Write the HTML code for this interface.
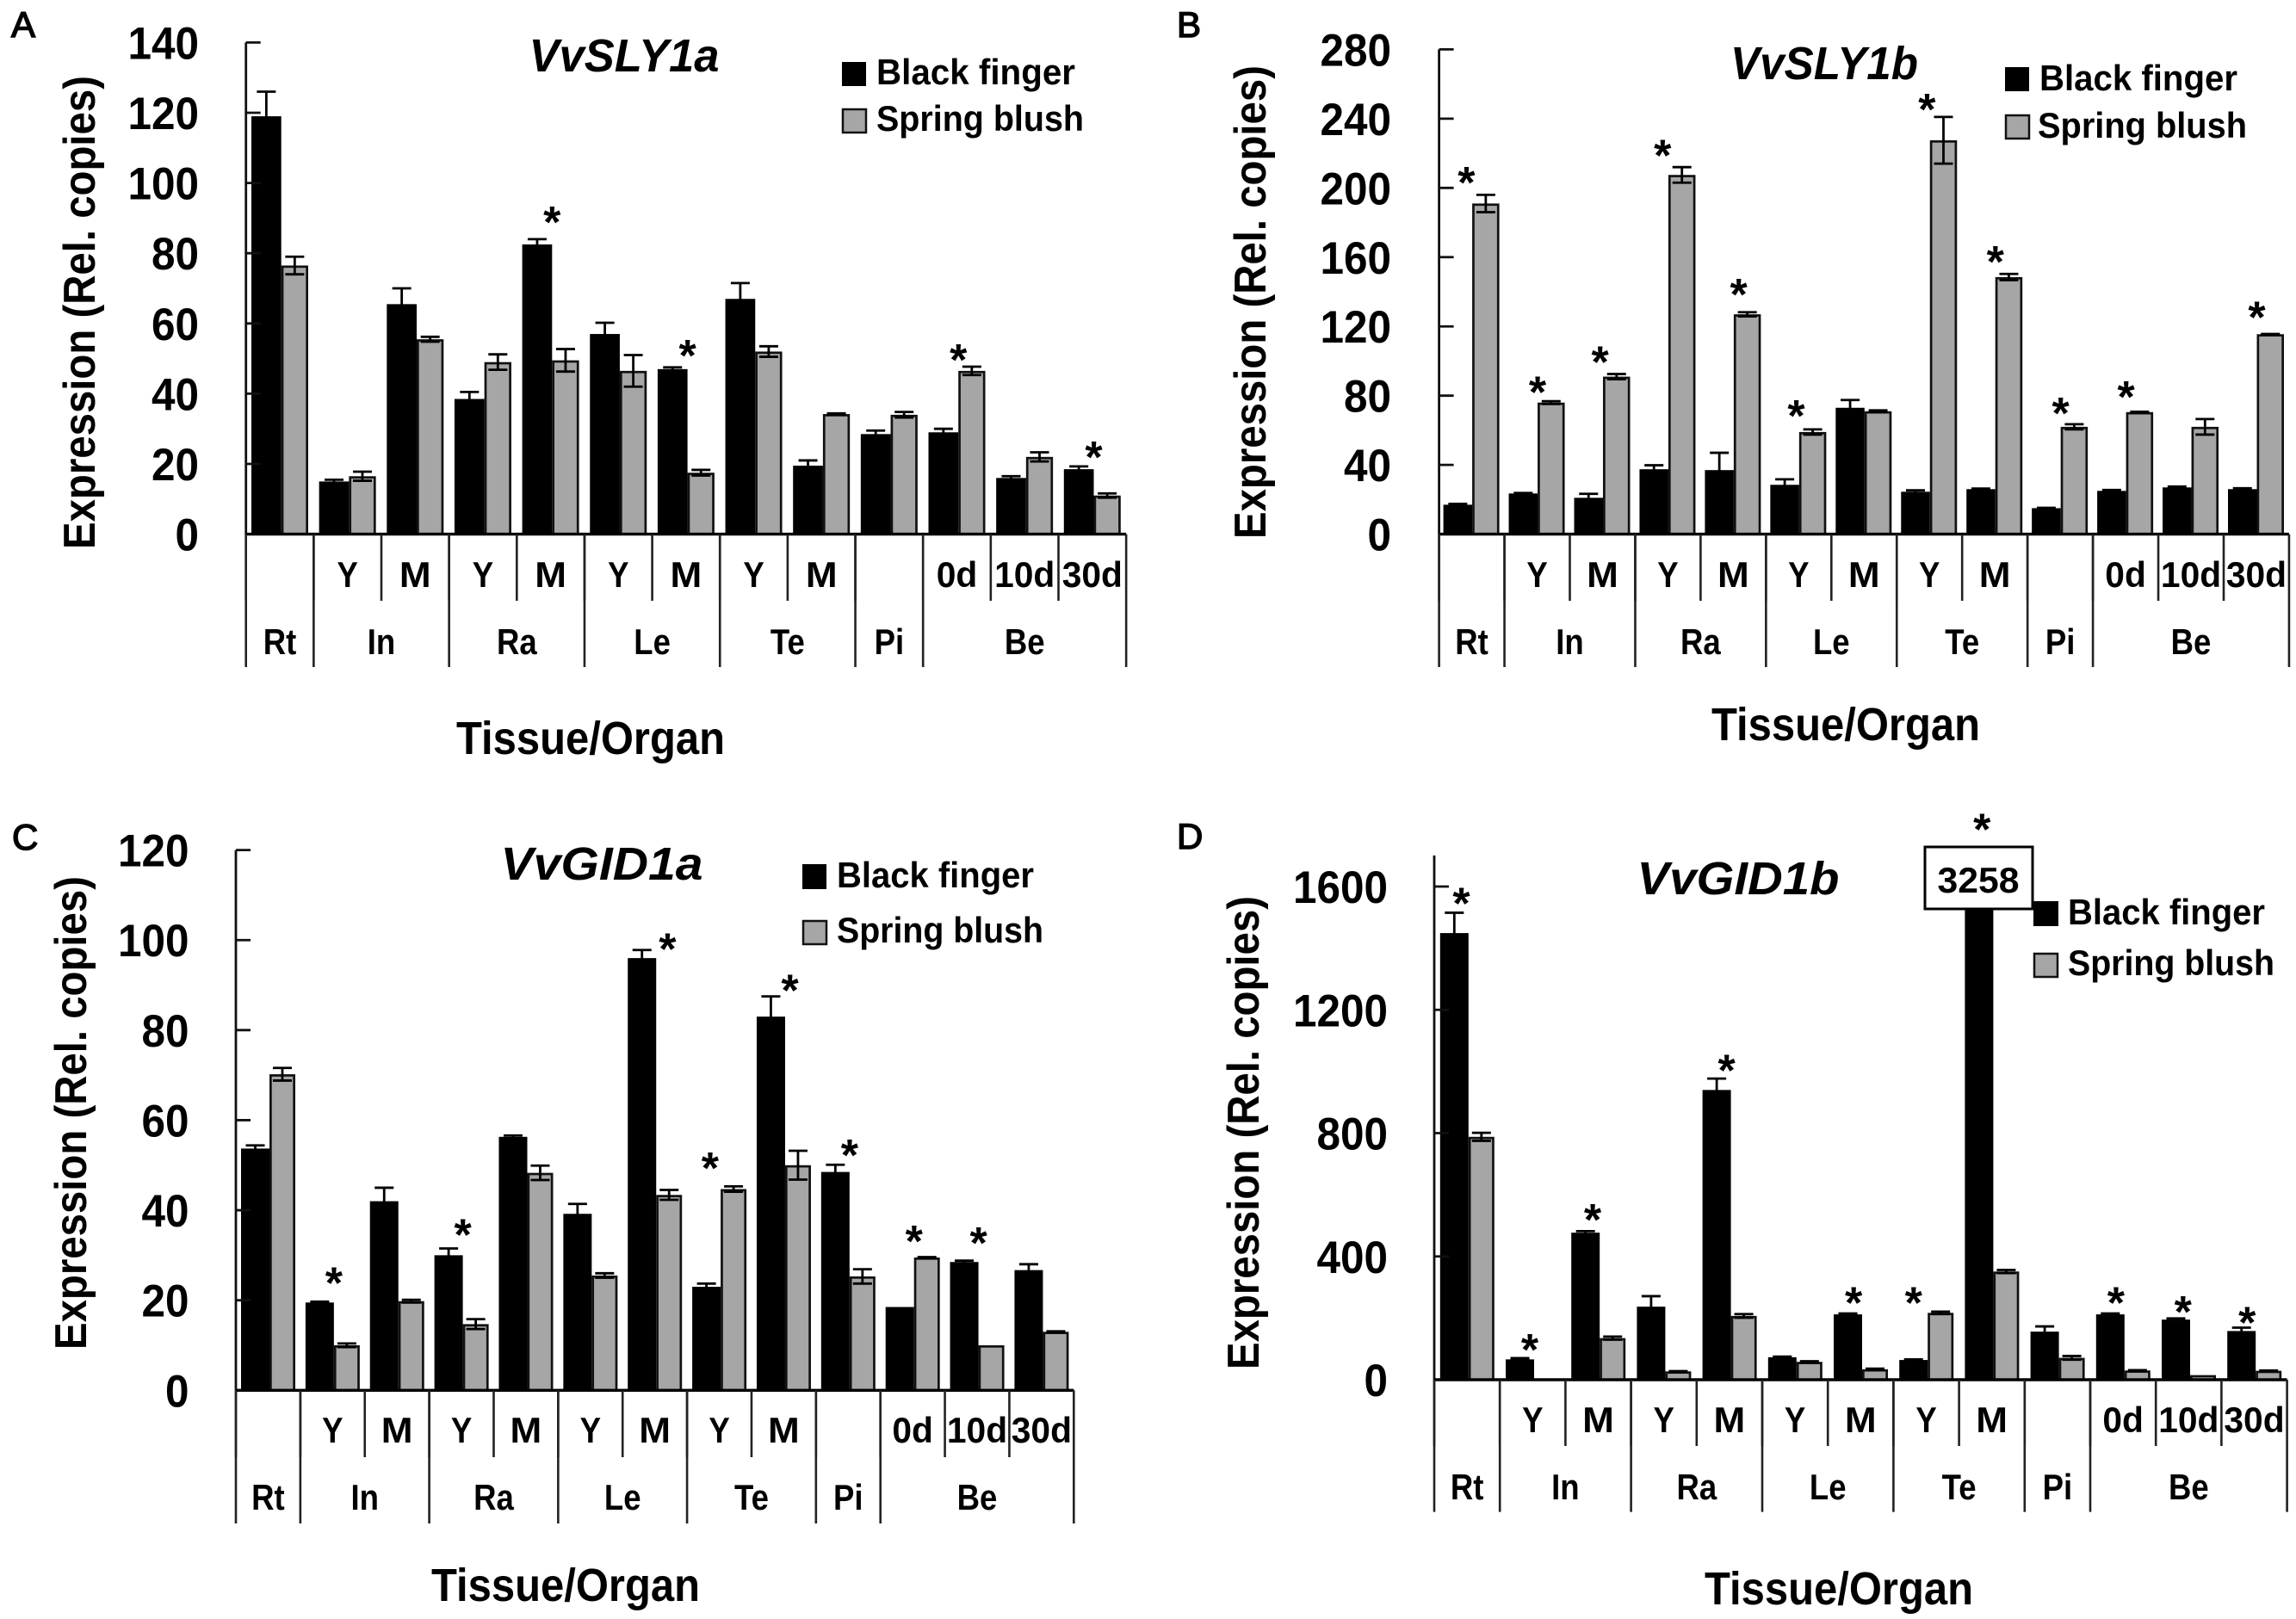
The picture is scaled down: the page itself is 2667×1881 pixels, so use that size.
<!DOCTYPE html>
<html lang="en">
<head>
<meta charset="utf-8">
<title>Expression of VvSLY1a, VvSLY1b, VvGID1a and VvGID1b</title>
<style>
html,body{margin:0;padding:0;background:#fff;}
svg{display:block;}
text{font-family:"Liberation Sans",Arial,sans-serif;font-weight:700;fill:#000;}
.panel-letter{font-weight:400;font-size:42px;stroke:#000;stroke-width:1.5px;}
.gene{font-style:italic;font-size:54px;text-anchor:middle;}
.ytitle{font-size:52px;text-anchor:middle;}
.xtitle{font-size:54px;text-anchor:middle;}
.leg{font-size:42px;}
</style>
</head>
<body>
<svg id="fig" xmlns="http://www.w3.org/2000/svg" width="2667" height="1881" viewBox="0 0 2667 1881">
  <rect width="2667" height="1881" fill="#fff"/>

  <g id="panelA">
    <text class="panel-letter" x="13" y="43">A</text>
    <text class="gene" x="725" y="83" textLength="221" lengthAdjust="spacingAndGlyphs">VvSLY1a</text>
    <text class="ytitle" transform="translate(110,363) rotate(-90)" textLength="550" lengthAdjust="spacingAndGlyphs">Expression (Rel. copies)</text>
    <text class="xtitle" x="686" y="876" textLength="312" lengthAdjust="spacingAndGlyphs">Tissue/Organ</text>
  </g>
  <g id="panelB">
    <text class="panel-letter" x="1367" y="43">B</text>
    <text class="gene" x="2119" y="92" textLength="218" lengthAdjust="spacingAndGlyphs">VvSLY1b</text>
    <text class="ytitle" transform="translate(1470,351) rotate(-90)" textLength="550" lengthAdjust="spacingAndGlyphs">Expression (Rel. copies)</text>
    <text class="xtitle" x="2144" y="860" textLength="312" lengthAdjust="spacingAndGlyphs">Tissue/Organ</text>
  </g>
  <g id="panelC">
    <text class="panel-letter" x="14" y="987">C</text>
    <text class="gene" x="699" y="1022" textLength="235" lengthAdjust="spacingAndGlyphs">VvGID1a</text>
    <text class="ytitle" transform="translate(100,1293) rotate(-90)" textLength="550" lengthAdjust="spacingAndGlyphs">Expression (Rel. copies)</text>
    <text class="xtitle" x="657" y="1860" textLength="312" lengthAdjust="spacingAndGlyphs">Tissue/Organ</text>
  </g>
  <g id="panelD">
    <text class="panel-letter" x="1367" y="986">D</text>
    <text class="gene" x="2019" y="1039" textLength="235" lengthAdjust="spacingAndGlyphs">VvGID1b</text>
    <text class="ytitle" transform="translate(1462,1316) rotate(-90)" textLength="550" lengthAdjust="spacingAndGlyphs">Expression (Rel. copies)</text>
    <text class="xtitle" x="2136" y="1864" textLength="312" lengthAdjust="spacingAndGlyphs">Tissue/Organ</text>
  </g>

  <g id="overlay">
    <g>
      <rect x="978" y="72" width="28" height="28" fill="#000"/>
      <text class="leg" x="1018" y="98" textLength="231" lengthAdjust="spacingAndGlyphs">Black finger</text>
      <rect x="979" y="127" width="27" height="27" fill="#a6a6a6" stroke="#111" stroke-width="2.5"/>
      <text class="leg" x="1018" y="152" textLength="241" lengthAdjust="spacingAndGlyphs">Spring blush</text>
    </g>
    <g>
      <rect x="2329" y="78" width="28" height="28" fill="#000"/>
      <text class="leg" x="2369" y="105" textLength="230" lengthAdjust="spacingAndGlyphs">Black finger</text>
      <rect x="2330" y="134" width="27" height="27" fill="#a6a6a6" stroke="#111" stroke-width="2.5"/>
      <text class="leg" x="2367" y="160" textLength="243" lengthAdjust="spacingAndGlyphs">Spring blush</text>
    </g>
    <g>
      <rect x="932" y="1004" width="28" height="29" fill="#000"/>
      <text class="leg" x="972" y="1031" textLength="229" lengthAdjust="spacingAndGlyphs">Black finger</text>
      <rect x="933" y="1070" width="27" height="27" fill="#a6a6a6" stroke="#111" stroke-width="2.5"/>
      <text class="leg" x="972" y="1095" textLength="240" lengthAdjust="spacingAndGlyphs">Spring blush</text>
    </g>
    <g>
      <rect x="2362" y="1047" width="29" height="29" fill="#000"/>
      <text class="leg" x="2402" y="1074" textLength="229" lengthAdjust="spacingAndGlyphs">Black finger</text>
      <rect x="2363" y="1108" width="27" height="27" fill="#a6a6a6" stroke="#111" stroke-width="2.5"/>
      <text class="leg" x="2402" y="1133" textLength="240" lengthAdjust="spacingAndGlyphs">Spring blush</text>
    </g>
    <g>
      <rect x="2236" y="984" width="125" height="72" fill="#fff" stroke="#000" stroke-width="3"/>
      <text x="2298" y="1037" font-size="42" text-anchor="middle" textLength="95" lengthAdjust="spacingAndGlyphs">3258</text>
    </g>
  </g>
</svg>

<script>
// Shared category labels
const categoryLabels = ['', 'Y', 'M', 'Y', 'M', 'Y', 'M', 'Y', 'M', '', '0d', '10d', '30d'];
const groupLabels = ['Rt', 'In', 'Ra', 'Le', 'Te', 'Pi', 'Be'];
const groupSizes = [1, 2, 2, 2, 2, 1, 3];

// Panel A: VvSLY1a
const ticksA = [0, 20, 40, 60, 80, 100, 120, 140];
const blackA = [119, 15, 65.5, 38.5, 82.5, 57, 47, 67, 19.5, 28.5, 29, 16, 18.5];
const blackErrA = [7, 0.5, 4.5, 2, 1.5, 3.2, 0.5, 4.5, 1.5, 1, 1, 0.5, 0.8];
const grayA = [76.5, 16.5, 55.5, 49, 49.5, 46.5, 17.5, 52, 34.2, 34, 46.5, 22, 11];
const grayErrA = [2.5, 1.3, 0.7, 2.2, 3.2, 4.5, 0.8, 1.5, 0.2, 0.8, 1.2, 1.3, 0.6];
const starCatsA = [4, 6, 10, 12];
const starOnGrayA = [0, 0, 1, 0];
const starLiftA = [6.3, 4.9, 3.4, 4.1];
const starNudgeA = [0, 0, 0, 0];

// Panel B: VvSLY1b
const ticksB = [0, 40, 80, 120, 160, 200, 240, 280];
const blackB = [17, 23.5, 21, 37.5, 37, 28.5, 73, 24.5, 26, 15, 25, 27, 26];
const blackErrB = [0.5, 0.3, 2.3, 2.3, 10, 3.2, 4.5, 0.8, 0.3, 0.2, 0.5, 0.5, 0.5];
const grayB = [191, 76, 91, 207.5, 127, 59, 71, 227.5, 148.5, 62, 70.5, 62, 115.5];
const grayErrB = [5, 0.8, 1.5, 4.5, 1.2, 1.5, 0.5, 13.5, 1.8, 1.5, 0.2, 4.5, 0.1];
const starCatsB = [0, 1, 2, 3, 4, 5, 7, 8, 9, 10, 12];
const starOnGrayB = [1, 1, 1, 1, 1, 1, 1, 1, 1, 1, 1];
const starLiftB = [10, 8.3, 10, 9.7, 13.4, 10.8, 7.4, 10, 9.4, 11.7, 12.8];
const starNudgeB = [-0.2, 0, -0.1, -0.2, 0.17, -0.1, -0.1, 0, 0, 0, 0];

// Panel C: VvGID1a
const ticksC = [0, 20, 40, 60, 80, 100, 120];
const blackC = [53.7, 19.5, 42, 30, 56.3, 39.2, 96, 23, 83, 48.5, 18.5, 28.5, 26.7];
const blackErrC = [0.7, 0.2, 3, 1.5, 0.3, 2.2, 1.8, 0.7, 4.5, 1.6, 0, 0.3, 1.3];
const grayC = [70.2, 10, 19.8, 14.7, 48.3, 25.5, 43.4, 44.7, 50, 25.3, 29.5, 10, 13];
const grayErrC = [1.4, 0.4, 0.3, 1.1, 1.6, 0.5, 1.1, 0.6, 3.2, 1.6, 0.1, 0, 0.1];
const starCatsC = [1, 3, 6, 7, 8, 9, 10, 11];
const starOnGrayC = [0, 0, 0, 1, 0, 0, 1, 0];
const starLiftC = [5.3, 4.2, 1.4, 5.2, 2.5, 3.3, 4.7, 5.1];
const starNudgeC = [0, 0, 0.4, -0.37, 0.17, 0, 0, 0];

// Panel D: VvGID1b
const ticksD = [0, 400, 800, 1200, 1600];
const blackD = [1449, 66, 477, 237, 940, 73, 212, 64, 3258, 156, 212, 195, 158];
const blackErrD = [66, 4, 5, 34, 37, 2, 3, 2, 0, 17, 3, 4, 11];
const grayD = [788, 3, 135, 27, 207, 58, 34, 217, 351, 71, 30, 15, 29];
const grayErrD = [13, 0, 5, 1, 6, 2, 2, 4, 5, 6, 1, 0, 1];
const starCatsD = [0, 1, 2, 4, 6, 7, 8, 10, 11, 12];
const starOnGrayD = [0, 0, 0, 0, 0, 1, 0, 0, 0, 0];
const starLiftD = [47, 44, 54, 44, 51, 46, 102, 52, 39, 34];
const starNudgeD = [-0.25, -0.15, -0.25, -0.15, -0.3, -0.5, -0.4, -0.3, -0.25, -0.3];

const SVGNS = 'http://www.w3.org/2000/svg';

function shape(parent, tag, props, content) {
  const node = document.createElementNS(SVGNS, tag);
  for (const key in props) node.setAttribute(key, props[key]);
  if (content !== undefined) node.textContent = content;
  parent.appendChild(node);
  return node;
}

// Narrow a label horizontally so that bold Liberation Sans takes the proportions of the original face.
function fitWidth(node, factor) {
  node.setAttribute('textLength', node.getComputedTextLength() * factor);
  node.setAttribute('lengthAdjust', 'spacingAndGlyphs');
}

function labelFactor(label) {
  if (label === 'M') return 1.05;
  if (label.charAt(label.length - 1) === 'd') return 0.97;
  return 0.87;
}

function drawPanel(layout, data) {
  const root = document.getElementById(layout.id);
  const plot = shape(root, 'g', {});
  
  

  const yPos = function (v) {
    const clamped = Math.min(v, layout.axisValue);
    return layout.yZero - clamped / layout.refValue * (layout.yZero - layout.yRef);
  };
  const xEdge = function (i) { return layout.x0 + layout.step * i; };
  const nCats = data.black.length;
  const halfCap = 11;
  const strokeW = 2.7;

  // bars
  for (let i = 0; i < nCats; i++) {
    const bx = xEdge(i) + layout.inset;
    const bar1 = shape(plot, 'rect', {
      x: bx, y: yPos(data.black[i]), width: layout.blackW,
      height: layout.yZero - yPos(data.black[i]), fill: '#000'
    });
    
    

    const gx = bx + layout.blackW;
    const bar2 = shape(plot, 'rect', {
      x: gx + strokeW / 2, y: yPos(data.gray[i]) + strokeW / 2, width: layout.grayW - strokeW,
      height: Math.max(0, layout.yZero - yPos(data.gray[i]) - strokeW / 2),
      fill: '#a6a6a6', stroke: '#111', 'stroke-width': strokeW
    });
    
    

    const seriesVals = [data.black[i], data.gray[i]];
    const seriesErrs = [data.blackErr[i], data.grayErr[i]];
    const centers = [bx + layout.blackW / 2, gx + layout.grayW / 2];
    for (let s = 0; s < 2; s++) {
      if (seriesErrs[s] <= 0 || seriesVals[s] >= layout.axisValue) continue;
      const yHi = yPos(seriesVals[s] + seriesErrs[s]);
      const yLo = yPos(Math.max(0, seriesVals[s] - seriesErrs[s]));
      const d = 'M' + centers[s] + ' ' + yLo + 'V' + yHi +
        'M' + (centers[s] - halfCap) + ' ' + yHi + 'H' + (centers[s] + halfCap) +
        'M' + (centers[s] - halfCap) + ' ' + yLo + 'H' + (centers[s] + halfCap);
      const whisker = shape(plot, 'path', { d: d, stroke: '#000', 'stroke-width': 2.8, fill: 'none' });
      
      
    }
  }

  // significance asterisks
  data.starCats.forEach(function (cat, k) {
    const top = data.starOnGray[k]
      ? Math.min(data.gray[cat] + data.grayErr[cat], layout.axisValue)
      : Math.min(data.black[cat] + data.blackErr[cat], layout.axisValue);
    const sx = xEdge(cat) + layout.inset + layout.blackW + data.starNudge[k] * layout.blackW;
    const sy = yPos(top) - (yPos(0) - yPos(data.starLift[k]));
    const star = shape(plot, 'text', { x: sx, y: sy + 24, 'font-size': 52, 'text-anchor': 'middle' }, '*');
    
    
  });

  // y axis
  const yAxis = shape(plot, 'line', {
    x1: layout.x0, x2: layout.x0, y1: yPos(layout.axisValue), y2: layout.yZero,
    stroke: '#111', 'stroke-width': 2.8
  });
  
  

  data.ticks.forEach(function (t) {
    const tick = shape(plot, 'line', {
      x1: layout.x0, x2: layout.x0 + 17, y1: yPos(t), y2: yPos(t),
      stroke: '#111', 'stroke-width': 2.8
    });
    
    

    const lab = shape(plot, 'text', {
      x: layout.tickRight, y: yPos(t) + 19, 'font-size': 53, 'text-anchor': 'end',
      textLength: String(t).length * 27.5, lengthAdjust: 'spacingAndGlyphs'
    }, String(t));
    
    
  });

  // x axis
  const xAxis = shape(plot, 'line', {
    x1: layout.x0, x2: xEdge(nCats), y1: layout.yZero, y2: layout.yZero,
    stroke: '#000', 'stroke-width': 3.4
  });
  
  

  // short dividers and sub-category labels
  for (let i = 0; i < nCats; i++) {
    const sub = categoryLabels[i];
    if (sub) {
      const subText = shape(plot, 'text', {
        x: xEdge(i) + layout.step / 2, y: layout.subY + 15, 'font-size': 42, 'text-anchor': 'middle'
      }, sub);
      fitWidth(subText, labelFactor(sub));
      
      
    }
    const div = shape(plot, 'line', {
      x1: xEdge(i), x2: xEdge(i), y1: layout.yZero, y2: layout.shortEnd,
      stroke: '#222', 'stroke-width': 2.6
    });
    
    
  }

  // long dividers and group labels
  let start = 0;
  groupLabels.forEach(function (g, idx) {
    const end = start + groupSizes[idx];
    const left = shape(plot, 'line', {
      x1: xEdge(start), x2: xEdge(start), y1: layout.yZero, y2: layout.longEnd,
      stroke: '#222', 'stroke-width': 2.6
    });
    
    

    const groupText = shape(plot, 'text', {
      x: (xEdge(start) + xEdge(end)) / 2, y: layout.groupY + 15,
      'font-size': 42, 'text-anchor': 'middle'
    }, g);
    fitWidth(groupText, labelFactor(g));
    
    
    start = end;
  });
  const last = shape(plot, 'line', {
    x1: xEdge(nCats), x2: xEdge(nCats), y1: layout.yZero, y2: layout.longEnd,
    stroke: '#222', 'stroke-width': 2.6
  });
  
  
}

drawPanel(
  { id: 'panelA', x0: 285.7, step: 78.65, inset: 6.3, blackW: 34.7, grayW: 31.3, yZero: 620.6, yRef: 49.4, refValue: 140, axisValue: 140, tickRight: 231, subY: 667, groupY: 745, shortEnd: 698, longEnd: 775 },
  { ticks: ticksA, black: blackA, blackErr: blackErrA, gray: grayA, grayErr: grayErrA, starCats: starCatsA, starOnGray: starOnGrayA, starLift: starLiftA, starNudge: starNudgeA }
);
drawPanel(
  { id: 'panelB', x0: 1671.6, step: 75.95, inset: 5, blackW: 33.5, grayW: 31.5, yZero: 620.6, yRef: 57.4, refValue: 280, axisValue: 280, tickRight: 1616, subY: 667, groupY: 745, shortEnd: 698, longEnd: 775 },
  { ticks: ticksB, black: blackB, blackErr: blackErrB, gray: grayB, grayErr: grayErrB, starCats: starCatsB, starOnGray: starOnGrayB, starLift: starLiftB, starNudge: starNudgeB }
);
drawPanel(
  { id: 'panelC', x0: 274, step: 74.87, inset: 6, blackW: 33, grayW: 30, yZero: 1615.3, yRef: 987.6, refValue: 120, axisValue: 120, tickRight: 219.5, subY: 1661, groupY: 1739, shortEnd: 1693, longEnd: 1770 },
  { ticks: ticksC, black: blackC, blackErr: blackErrC, gray: grayC, grayErr: grayErrC, starCats: starCatsC, starOnGray: starOnGrayC, starLift: starLiftC, starNudge: starNudgeC }
);
drawPanel(
  { id: 'panelD', x0: 1666, step: 76.2, inset: 6.8, blackW: 33, grayW: 30, yZero: 1603, yRef: 1030, refValue: 1600, axisValue: 1701, tickRight: 1612, subY: 1649, groupY: 1727, shortEnd: 1680, longEnd: 1756.6 },
  { ticks: ticksD, black: blackD, blackErr: blackErrD, gray: grayD, grayErr: grayErrD, starCats: starCatsD, starOnGray: starOnGrayD, starLift: starLiftD, starNudge: starNudgeD }
);

// keep legends and callout above the marks
document.getElementById('fig').appendChild(document.getElementById('overlay'));
</script>
</body>
</html>
